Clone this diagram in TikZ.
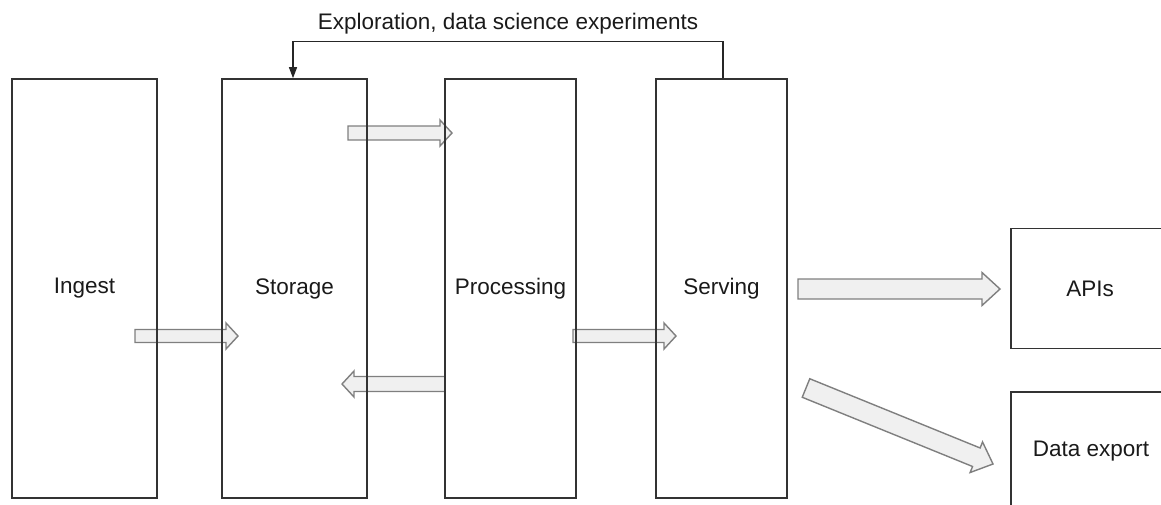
\documentclass[tikz,border=0pt]{standalone}
\usepackage{fontspec}
\setmainfont{Liberation Sans}
\usetikzlibrary{calc,arrows.meta}
\pgfdeclarelayer{bg}
\pgfsetlayers{bg,main}
\definecolor{boxline}{HTML}{333333}
\definecolor{txt}{HTML}{1A1A1A}
\definecolor{arrline}{HTML}{7F7F7F}
\definecolor{arrfill}{HTML}{F0F0F0}
\tikzset{
  box/.style={draw=boxline, line width=1.6pt, rectangle, inner sep=0pt, text=txt,
    font=\fontsize{22.5}{26}\selectfont},
  blockarrow/.style={draw=arrline, fill=arrfill, line width=1.4pt, line join=miter},
  fb/.style={draw=black!85, line width=1.3pt, -{Triangle[length=11pt,width=8pt]}},
  lbl/.style={text=txt, font=\fontsize{22.5}{26}\selectfont, inner sep=0pt}
}
% #1 from, #2 to, #3 half shaft, #4 half head, #5 head length
\newcommand\blockarr[5]{%
  \path ($(#2)!#5!(#1)$) coordinate (hb);
  \draw[blockarrow] ($(#1)!#3!90:(#2)$) -- ($(hb)!#3!90:(#2)$) -- ($(hb)!#4!90:(#2)$)
    -- (#2) -- ($(hb)!#4!-90:(#2)$) -- ($(hb)!#3!-90:(#2)$) -- ($(#1)!#3!-90:(#2)$) -- cycle;
}
\begin{document}
\begin{tikzpicture}[x=1pt,y=-1pt]
\useasboundingbox (0,0) rectangle (1161,504);
\clip (0,0) rectangle (1161,504);
\node[box, minimum width=145, minimum height=419] (ingest) at (84.5,288.5) {Ingest};
\node[box, minimum width=145, minimum height=419] (storage) at (294.5,288.5) {Storage};
\node[box, minimum width=131, minimum height=419] (processing) at (510.5,288.5) {Processing};
\node[box, minimum width=131, minimum height=419] (serving) at (721.5,288.5) {Serving};
\node[box, minimum width=158, minimum height=120] (apis) at (1090,288.5) {APIs};
\node[box, minimum width=160, minimum height=118] (export) at (1091,451) {Data export};

\draw[fb] (serving.north) ++(1.5,0) coordinate (fbs) -- ++(0,-37) -| ([xshift=-1.5pt]storage.north);
\node[lbl] (explab) at (508,24) {Exploration, data science experiments};

\coordinate (a1s) at (135,336);  \coordinate (a1e) at (238,336);
\coordinate (a2s) at (348,133);  \coordinate (a2e) at (452,133);
\coordinate (a3s) at (445,384);  \coordinate (a3e) at (342,384);
\coordinate (a4s) at (573,336);  \coordinate (a4e) at (676,336);
\coordinate (a5s) at (798,289);  \coordinate (a5e) at (1000,289);
\coordinate (a6s) at (806,388);  \coordinate (a6e) at (993,464);
\begin{pgfonlayer}{bg}
\blockarr{a1s}{a1e}{6.5pt}{13pt}{12pt}
\blockarr{a2s}{a2e}{7pt}{13pt}{12pt}
\blockarr{a3s}{a3e}{7.5pt}{13pt}{12pt}
\blockarr{a4s}{a4e}{6.5pt}{13pt}{12pt}
\blockarr{a5s}{a5e}{10pt}{16.5pt}{18pt}
\blockarr{a6s}{a6e}{10pt}{16.5pt}{18pt}
\end{pgfonlayer}
\end{tikzpicture}
\end{document}
